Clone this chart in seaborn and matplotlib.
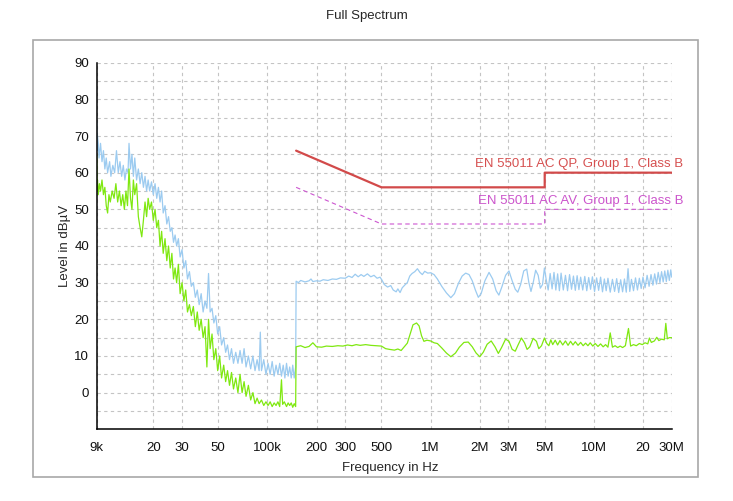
import numpy as np
import pandas as pd
import matplotlib
matplotlib.use('Agg')
import matplotlib.pyplot as plt
from matplotlib.patches import Rectangle
from matplotlib.ticker import FixedLocator, FixedFormatter, NullLocator
import seaborn as sns

# ---------------------------------------------------------------
# data (levels in dBuV)
# ---------------------------------------------------------------
# peak trace (light blue), 9 kHz .. 150 kHz, freq in kHz
peak_low_khz = [9.0, 9.05, 9.1, 9.2, 9.3, 9.5, 9.7, 9.9, 10.1, 10.3, 10.5, 10.8, 11.0, 11.3, 11.6,
                11.9, 12.2, 12.5, 12.8, 13.1, 13.4, 13.7, 14.0, 14.2, 14.5, 14.8, 15.1, 15.4, 15.8,
                16.2, 16.6, 17.0, 17.4, 17.8, 18.2, 18.6, 19.0, 19.5, 20.0, 20.5, 21.0, 21.5, 22.0,
                22.5, 23.0, 23.6, 24.2, 24.8, 25.4, 26.0, 26.6, 27.2, 27.8, 28.5, 29.2, 30.0, 30.8,
                31.6, 32.4, 33.3, 34.2, 35.2, 36.2, 37.2, 38.2, 39.3, 40.4, 41.5, 42.6, 43.6, 44.6,
                45.8, 47.0, 48.3, 49.6, 51.0, 52.4, 54.0, 55.5, 57.0, 58.6, 60.3, 62.0, 64.0, 66.0,
                68.0, 70.0, 72.0, 74.0, 76.5, 79.0, 81.5, 84.0, 86.5, 89.0, 90.5, 92.0, 95.0, 98.0,
                101, 104, 107, 110, 113, 116, 119, 122, 125, 128, 131, 134, 137, 140, 143, 146, 149]
peak_low_db = [74, 66, 70, 68, 64, 68, 63, 66, 61, 64, 60, 63, 59, 62, 60,
               66, 60, 63, 59, 62, 58, 61, 60, 68, 61, 65, 59, 64, 58,
               61, 57, 60, 56, 59, 55, 58, 55, 57.5, 54, 57, 53, 56, 52,
               55, 49, 51, 46, 48, 44, 45, 41, 43, 40, 42, 37, 39, 34,
               36, 31, 33, 29, 30, 26, 28, 24, 27, 22, 25, 23, 32.5, 22,
               23, 19, 21, 16, 18, 13, 15, 11, 13, 9, 12, 8, 11, 8,
               11.5, 8, 12, 7, 10, 6.5, 10, 6, 9, 6, 16.5, 6, 9, 5,
               8, 5, 8.5, 4.5, 7.5, 5, 8, 4.5, 7.5, 4, 8, 4.5, 7, 4, 7.5, 4, 7]

# peak trace, 150 kHz .. 30 MHz, freq in MHz
peak_high_mhz = [0.150, 0.155, 0.160, 0.170, 0.180, 0.185, 0.190, 0.200, 0.210, 0.220, 0.235, 0.250,
                 0.265, 0.280, 0.300, 0.315, 0.330, 0.345, 0.360, 0.375, 0.390, 0.410, 0.430, 0.450,
                 0.470, 0.490, 0.505, 0.520, 0.545, 0.570, 0.590, 0.615, 0.630, 0.650, 0.670, 0.700,
                 0.720, 0.745, 0.770, 0.800, 0.830, 0.860, 0.890, 0.920, 0.960, 1.000, 1.050, 1.100,
                 1.170, 1.250, 1.330, 1.400, 1.480, 1.560, 1.640, 1.720, 1.800, 1.880, 1.960, 2.040,
                 2.150, 2.280, 2.400, 2.520, 2.620, 2.740, 2.880, 3.020, 3.160, 3.300, 3.420, 3.560,
                 3.720, 3.880, 4.000, 4.120, 4.260, 4.400, 4.560, 4.700, 4.850, 4.980, 5.100, 5.250,
                 5.400, 5.550, 5.700, 5.850, 6.000, 6.150, 6.300, 6.500, 6.700, 6.900, 7.100, 7.300,
                 7.500, 7.700, 7.900, 8.100, 8.300, 8.550, 8.800, 9.050, 9.300, 9.550, 9.800, 10.10,
                 10.40, 10.70, 11.00, 11.30, 11.60, 11.90, 12.20, 12.60, 13.00, 13.40, 13.80, 14.20,
                 14.60, 15.00, 15.40, 15.80, 16.20, 16.60, 17.00, 17.50, 18.00, 18.50, 19.00, 19.50,
                 20.00, 20.60, 21.20, 21.80, 22.40, 23.00, 23.60, 24.20, 24.80, 25.40, 26.00, 26.60,
                 27.20, 27.80, 28.40, 29.00, 29.60, 30.00]
peak_high_db = [30.4, 30.0, 30.6, 30.2, 30.5, 31.0, 30.3, 30.5, 30.4, 30.8, 30.6, 31.0,
                30.9, 31.3, 31.2, 31.8, 31.4, 32.3, 31.6, 32.2, 31.7, 32.4, 31.6, 32.0,
                31.2, 31.5, 30.6, 29.5, 28.8, 29.2, 28.0, 27.5, 28.3, 27.3, 28.6, 29.5,
                30.0, 31.8, 32.5, 33.0, 33.8, 32.8, 32.2, 33.1, 32.6, 32.7, 32.2, 31.0,
                29.0, 27.2, 25.9, 27.0, 29.8, 31.8, 32.6, 32.2, 30.5, 28.0, 26.0, 27.0,
                30.5, 32.8, 31.0, 27.8, 26.6, 29.0, 32.0, 33.2, 30.5, 28.2, 27.4, 29.5,
                33.2, 33.7, 30.0, 27.6, 30.2, 33.4, 32.0, 28.5, 29.5, 34.0, 31.0, 28.0,
                32.5, 28.3, 32.8, 28.0, 32.4, 27.8, 32.6, 28.0, 32.0, 27.8, 32.2, 28.2,
                31.8, 27.9, 31.9, 28.1, 31.5, 28.0, 31.7, 27.8, 31.4, 28.2, 31.6, 27.6,
                31.3, 27.9, 31.5, 27.5, 31.0, 27.8, 31.2, 27.4, 30.9, 27.6, 31.1, 27.3,
                30.8, 27.5, 31.0, 27.4, 33.8, 27.6, 30.9, 27.8, 31.3, 28.0, 31.2, 28.4,
                31.5, 28.6, 32.0, 29.0, 32.2, 29.3, 32.4, 29.6, 32.8, 30.0, 33.0, 30.2,
                33.2, 30.3, 33.4, 30.6, 33.5, 31.5]

# average trace (green), 9 kHz .. 150 kHz, freq in kHz
avg_low_khz = [9.0, 9.05, 9.1, 9.2, 9.35, 9.5, 9.7, 9.9, 10.1, 10.3, 10.5, 10.7, 10.9, 11.2, 11.5,
               11.8, 12.1, 12.4, 12.7, 13.0, 13.3, 13.6, 13.9, 14.2, 14.5, 14.8, 15.1, 15.4, 15.8,
               16.2, 16.6, 17.0, 17.4, 17.8, 18.2, 18.6, 19.0, 19.5, 20.0, 20.5, 21.0, 21.5, 22.0,
               22.5, 23.0, 23.6, 24.2, 24.8, 25.4, 26.0, 26.6, 27.2, 27.8, 28.5, 29.2, 30.0, 30.8,
               31.6, 32.4, 33.3, 34.2, 35.2, 36.2, 37.2, 38.2, 39.3, 40.4, 41.5, 42.6, 43.6, 44.6,
               45.8, 47.0, 48.3, 49.6, 51.0, 52.4, 54.0, 55.5, 57.0, 58.6, 60.3, 62.0, 64.0, 66.0,
               68.0, 70.0, 72.0, 74.0, 76.5, 79.0, 81.5, 84.0, 86.5, 89.0, 92.0, 95.0, 98.0, 101,
               104, 107, 110, 113, 116, 119, 122, 124, 127, 131, 134, 137, 140, 143, 146, 149]
avg_low_db = [65, 55, 58, 54, 57, 55, 58, 54, 56, 51, 49, 54, 52, 55, 53,
              57, 52, 55, 51, 54, 50, 55, 51, 61, 53, 50, 58, 54, 57,
              48, 45, 42.5, 47, 52, 48, 53, 50, 52, 47, 50, 45, 47, 40,
              44, 38, 42, 36, 40, 34, 38, 31, 34, 30, 35, 27, 30, 25,
              28, 22, 24, 21, 23.5, 18, 22, 17, 20, 15, 18, 7, 20, 12,
              16, 9, 12, 6, 10, 4, 7.5, 3, 6, 2, 5.5, 1, 4, 0,
              5, 0, 3, -1, 2, -2, 0, -3, -1.5, -3, -2, -3.5, -2.5, -3.5,
              -2.5, -3.8, -2.8, -3.5, -2.5, -3.8, 3.5, -3.2, -2.5, -3.8, -2.8, -3.5, -2.8, -4, -3, -3.8]

# average trace, 150 kHz .. 30 MHz, freq in MHz
avg_high_mhz = [0.150, 0.160, 0.170, 0.180, 0.190, 0.200, 0.215, 0.230, 0.250, 0.270, 0.290, 0.310,
                0.330, 0.350, 0.370, 0.400, 0.430, 0.460, 0.500, 0.530, 0.560, 0.600, 0.630, 0.660,
                0.690, 0.720, 0.750, 0.780, 0.820, 0.850, 0.880, 0.910, 0.950, 1.000, 1.050, 1.100,
                1.170, 1.250, 1.330, 1.420, 1.500, 1.600, 1.700, 1.800, 1.900, 2.000, 2.100, 2.220,
                2.350, 2.480, 2.600, 2.720, 2.880, 3.020, 3.160, 3.300, 3.450, 3.600, 3.760, 3.900,
                4.050, 4.250, 4.450, 4.600, 4.780, 4.980, 5.150, 5.300, 5.450, 5.600, 5.800, 6.000,
                6.200, 6.450, 6.700, 6.950, 7.200, 7.450, 7.700, 8.000, 8.300, 8.600, 8.900, 9.200,
                9.500, 9.850, 10.20, 10.60, 11.00, 11.40, 11.80, 12.20, 12.60, 13.00, 13.50, 14.00,
                14.50, 15.00, 15.60, 16.30, 16.80, 17.50, 18.20, 19.00, 19.80, 20.60, 21.40, 21.90,
                22.50, 23.50, 24.30, 25.00, 26.00, 27.00, 27.60, 28.20, 29.00, 30.00]
avg_high_db = [12.5, 12.8, 12.3, 12.6, 13.6, 12.5, 12.4, 12.7, 12.6, 12.8, 12.7, 13.0,
               12.8, 13.1, 12.9, 13.1, 12.9, 12.8, 12.7, 12.0, 11.8, 11.6, 11.9, 11.5,
               12.5, 13.5, 16.0, 18.5, 19.0, 18.2, 15.5, 14.0, 14.3, 14.1, 13.6, 13.4,
               12.2, 10.8, 9.8, 10.8, 12.4, 13.7, 13.8, 12.5, 10.8, 9.8, 11.0, 13.2,
               14.1, 12.5, 10.7, 12.3, 14.6, 14.0, 11.8, 11.3, 13.2, 14.9, 13.6, 11.8,
               12.5, 14.8, 14.0, 12.0, 12.8, 14.9, 13.4, 12.8, 14.4, 13.1, 14.3, 13.0,
               14.2, 13.0, 14.1, 12.9, 14.0, 13.0, 13.9, 12.9, 13.7, 12.8, 13.5, 12.8,
               13.6, 12.7, 13.4, 12.6, 13.3, 12.5, 13.1, 12.4, 16.3, 12.4, 12.8, 12.3,
               12.7, 12.3, 12.8, 17.5, 12.7, 13.1, 12.8, 13.4, 13.1, 13.6, 13.3, 14.9,
               13.7, 14.1, 15.1, 14.2, 14.6, 14.4, 18.9, 14.7, 15.0, 15.0]

# EN 55011 Group 1 Class B limits, freq in MHz
qp_limit_mhz = [0.15, 0.5, 5.0, 5.0, 30.0]
qp_limit_db = [66, 56, 56, 60, 60]
av_limit_mhz = [0.15, 0.5, 5.0, 5.0, 30.0]
av_limit_db = [56, 46, 46, 50, 50]

x_ticks_hz = [9e3, 2e4, 3e4, 5e4, 1e5, 2e5, 3e5, 5e5, 1e6, 2e6, 3e6, 5e6, 1e7, 2e7, 3e7]
x_tick_labels = ['9k', '20', '30', '50', '100k', '200', '300', '500',
                 '1M', '2M', '3M', '5M', '10M', '20', '30M']
y_major = [0, 10, 20, 30, 40, 50, 60, 70, 80, 90]
y_minor = [-5, 5, 15, 25, 35, 45, 55, 65, 75, 85]

# ---------------------------------------------------------------
# tables
# ---------------------------------------------------------------
peak = pd.DataFrame({
    'freq': np.concatenate([np.array(peak_low_khz) * 1e3, np.array(peak_high_mhz) * 1e6]),
    'level': peak_low_db + peak_high_db,
})
avg = pd.DataFrame({
    'freq': np.concatenate([np.array(avg_low_khz) * 1e3, np.array(avg_high_mhz) * 1e6]),
    'level': avg_low_db + avg_high_db,
})
qp = pd.DataFrame({'freq': np.array(qp_limit_mhz) * 1e6, 'level': qp_limit_db})
av = pd.DataFrame({'freq': np.array(av_limit_mhz) * 1e6, 'level': av_limit_db})

# ---------------------------------------------------------------
# plot
# ---------------------------------------------------------------
sns.set_style('white')
plt.rcParams['font.family'] = ['Liberation Sans', 'DejaVu Sans']

fig = plt.figure(figsize=(7.33, 5.01), dpi=100)
ax = fig.add_axes([0.1319, 0.1431, 0.7845, 0.7318])
ax.set_xscale('log')

sns.lineplot(data=peak, x='freq', y='level', ax=ax, color='#9ccbf0', lw=0.9,
             estimator=None, sort=False, legend=False)
sns.lineplot(data=avg, x='freq', y='level', ax=ax, color='#7fe810', lw=0.9,
             estimator=None, sort=False, legend=False)
sns.lineplot(data=qp, x='freq', y='level', ax=ax, color='#d24a4a', lw=1.6,
             estimator=None, sort=False, legend=False)
sns.lineplot(data=av, x='freq', y='level', ax=ax, color='#cc55d0', lw=0.8,
             estimator=None, sort=False, legend=False, dashes=False, linestyle=(0, (4, 3)))

ax.set_xlim(9e3, 3e7)
ax.set_ylim(-10, 90)

ax.xaxis.set_major_locator(FixedLocator(x_ticks_hz))
ax.xaxis.set_major_formatter(FixedFormatter(x_tick_labels))
ax.xaxis.set_minor_locator(NullLocator())
ax.yaxis.set_major_locator(FixedLocator(y_major))
ax.yaxis.set_minor_locator(FixedLocator(y_minor))

ax.grid(True, axis='x', which='major', color='#c4c4c4', lw=0.8, ls=(0, (3, 3)))
ax.grid(True, axis='y', which='both', color='#c4c4c4', lw=0.8, ls=(0, (3, 3)))

for side in ['top', 'right']:
    ax.spines[side].set_visible(False)
for side in ['left', 'bottom']:
    ax.spines[side].set_color('black')
    ax.spines[side].set_linewidth(1.1)

ax.tick_params(axis='both', which='both', direction='inout', length=6, width=1,
               color='black', labelsize=9.5, labelcolor='#111111')
ax.tick_params(axis='x', pad=6)
ax.tick_params(axis='y', pad=2.5)

ax.set_xlabel('Frequency in Hz', fontsize=9.5)
ax.set_ylabel('Level in dBµV', fontsize=9.5)
ax.xaxis.set_label_coords(0.51, -0.088)
ax.yaxis.set_label_coords(-0.045, 0.5)

# limit labels at the right end
ax.text(3.5e7, 62.4, 'EN 55011 AC QP, Group 1, Class B', color='#d65050',
        fontsize=9.5, ha='right', va='center', clip_on=False)
ax.text(3.55e7, 52.2, 'EN 55011 AC AV, Group 1, Class B', color='#cc55cc',
        fontsize=9.5, ha='right', va='center', clip_on=False)

fig.text(0.5, 0.969, 'Full Spectrum', ha='center', va='center', fontsize=9.5)

# outer frame
fig.patches.append(Rectangle((0.045, 0.0479), 0.9072, 0.8723, transform=fig.transFigure,
                             fill=False, edgecolor='#a8a8a8', lw=1.2))

fig.savefig('out.png', dpi=100)
